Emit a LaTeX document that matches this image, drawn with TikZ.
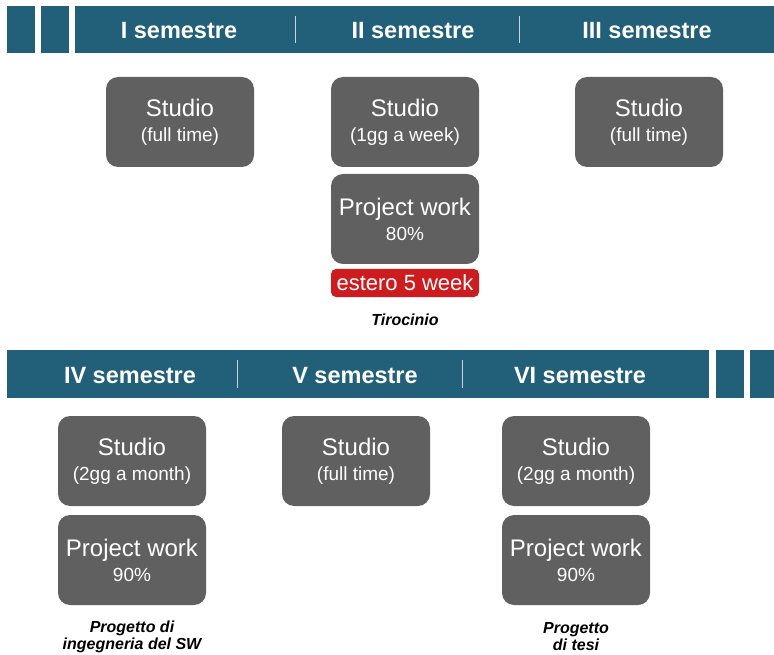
\documentclass[tikz,border=0pt]{standalone}
\usepackage{fontspec}
\setmainfont{Liberation Sans}
\definecolor{bandblue}{RGB}{34, 96, 122}
\definecolor{boxgray}{RGB}{96, 96, 96}
\definecolor{abroadred}{RGB}{204, 28, 32}
\usetikzlibrary{positioning}
\newcommand{\subline}[1]{{\fontsize{19}{22}\selectfont #1}}

\begin{document}
\begin{tikzpicture}[x=1pt, y=-1pt,
  band/.style={fill=bandblue, draw=none},
  sep/.style={draw=white!75!bandblue, line width=1pt},
  semlabel/.style={text=white, font=\fontsize{23.5}{26}\selectfont\bfseries},
  phase/.style={fill=boxgray, rounded corners=12pt, minimum width=148pt, minimum height=90pt, text=white, align=center, font=\fontsize{24}{25}\selectfont},
  abroad/.style={fill=abroadred, rounded corners=5pt, minimum width=148pt, minimum height=28pt, text=white, font=\fontsize{22}{24}\selectfont},
  caption/.style={align=center, font=\fontsize{16}{17}\selectfont\bfseries\itshape}]
  \useasboundingbox (0,0) rectangle (774,655);

  % Top band
  \fill[band] (7,6) rectangle (35,53);
  \fill[band] (41,6) rectangle (69,53);
  \fill[band] (75,6) rectangle (774,53);
  \foreach \x in {295, 519} {
    \draw[sep] (\x,16) -- (\x,43);
  }
  \node[semlabel] (semI) at (179,31) {I semestre};
  \node[semlabel] (semII) at (413,31) {II semestre};
  \node[semlabel] (semIII) at (647,31) {III semestre};

  % First year
  \node[phase] (studioI) at (180,122) {Studio\\\subline{(full time)}};
  \node[phase] (studioII) at (405,122) {Studio\\\subline{(1gg a week)}};
  \node[phase] (studioIII) at (649,122) {Studio\\\subline{(full time)}};
  \node[phase] (workII) at (405,219) {Project work\\\subline{80\%}};
  \node[abroad] (abroadII) at (405,283) {estero 5 week};
  \node[caption] (tirocinio) at (405,320) {Tirocinio};

  % Bottom band
  \fill[band] (7,350) rectangle (709,398);
  \fill[band] (716,350) rectangle (744,398);
  \fill[band] (750,350) rectangle (774,398);
  \foreach \x in {237, 462} {
    \draw[sep] (\x,360) -- (\x,388);
  }
  \node[semlabel] (semIV) at (130,376) {IV semestre};
  \node[semlabel] (semV) at (355,376) {V semestre};
  \node[semlabel] (semVI) at (580,376) {VI semestre};

  % Second year
  \node[phase] (studioIV) at (132,461) {Studio\\\subline{(2gg a month)}};
  \node[phase] (workIV) at (132,560) {Project work\\\subline{90\%}};
  \node[phase] (studioV) at (356,461) {Studio\\\subline{(full time)}};
  \node[phase] (studioVI) at (576,461) {Studio\\\subline{(2gg a month)}};
  \node[phase] (workVI) at (576,560) {Project work\\\subline{90\%}};
  \node[caption] (sw) at (132,637) {Progetto di\\ingegneria del SW};
  \node[caption] (tesi) at (576,637) {Progetto\\di tesi};
\end{tikzpicture}
\end{document}
